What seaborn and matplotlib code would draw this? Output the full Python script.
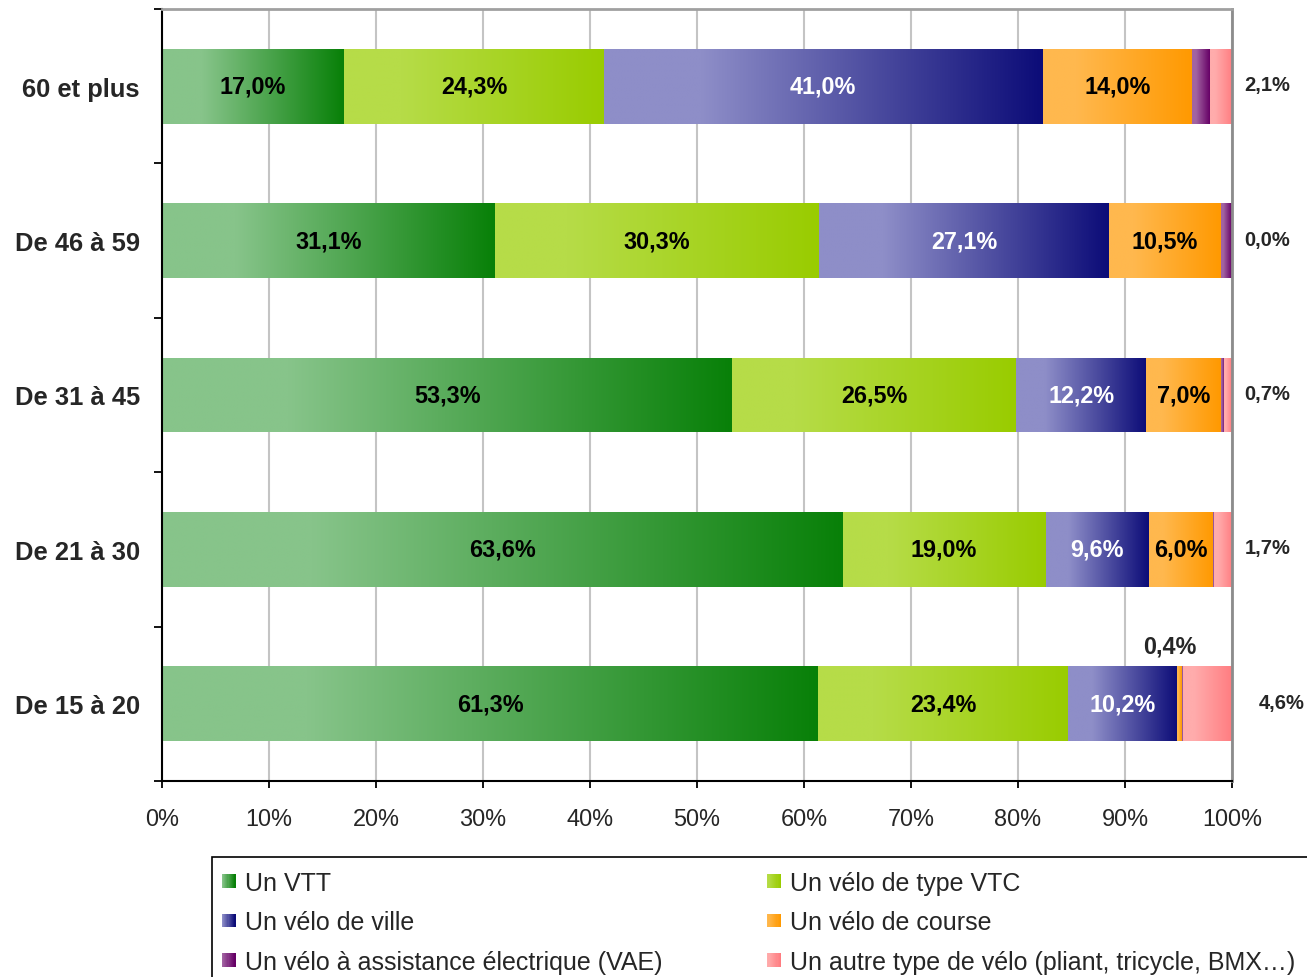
import numpy as np
import pandas as pd
import seaborn as sns
import matplotlib.pyplot as plt
from matplotlib.colors import LinearSegmentedColormap, to_rgb
from matplotlib.patches import Rectangle
from matplotlib.legend_handler import HandlerBase

# data
age_groups = ["60 et plus", "De 46 à 59", "De 31 à 45", "De 21 à 30", "De 15 à 20"]
series_names = ["Un VTT", "Un vélo de type VTC", "Un vélo de ville", "Un vélo de course",
                "Un vélo à assistance électrique (VAE)",
                "Un autre type de vélo (pliant, tricycle, BMX…)"]
vtt = [17.0, 31.1, 53.3, 63.6, 61.3]
vtc = [24.3, 30.3, 26.5, 19.0, 23.4]
ville = [41.0, 27.1, 12.2, 9.6, 10.2]
course = [14.0, 10.5, 7.0, 6.0, 0.4]
vae = [1.6, 1.0, 0.3, 0.1, 0.1]
autre = [2.1, 0.0, 0.7, 1.7, 4.6]

light = ["#87C48A", "#B6DC48", "#8E8EC8", "#FFB84E", "#A264A2", "#FFACAC"]
dark = ["#088008", "#99CC00", "#0C0C78", "#FF9900", "#660066", "#FF7C80"]

sns.set_style("white")
plt.rcParams["font.family"] = ["Liberation Sans", "DejaVu Sans"]


def fmt(v):
    return f"{v:.1f}%".replace(".", ",")


class GradientHandler(HandlerBase):
    """Legend square with a left-to-right gradient."""
    def __init__(self, c0, c1):
        super().__init__()
        self.c0 = np.array(to_rgb(c0))
        self.c1 = np.array(to_rgb(c1))

    def create_artists(self, legend, orig_handle, xdescent, ydescent, width, height, fontsize, trans):
        size = width
        x0 = -xdescent
        y0 = -ydescent + (height - size) / 2
        n = 12
        arts = []
        for k in range(n):
            t = k / (n - 1)
            col = (1 - t) * self.c0 + t * self.c1
            arts.append(Rectangle((x0 + k * size / n, y0), size / n * 1.05, size,
                                  facecolor=col, edgecolor="none", transform=trans))
        return arts


df = pd.DataFrame({"age": age_groups, "vtt": vtt, "vtc": vtc, "ville": ville,
                   "course": course, "vae": vae, "autre": autre})
cols = ["vtt", "vtc", "ville", "course", "vae", "autre"]

fig, ax = plt.subplots(figsize=(13.07, 9.78), dpi=100)
fig.subplots_adjust(left=0.124, right=0.9426, top=0.9898, bottom=0.2004)

grad = np.linspace(0, 1, 256).reshape(1, -1)
left = np.zeros(len(age_groups))
containers = []
for col, c0, c1 in zip(cols, light, dark):
    n_before = len(ax.patches)
    sns.barplot(data=df, x=col, y="age", order=age_groups, orient="h", color=c1,
                saturation=1, width=0.485, errorbar=None, left=left.copy(),
                linewidth=0, ax=ax)
    containers.append(ax.containers[-1])
    cmap = LinearSegmentedColormap.from_list(col, [(0, c0), (0.22, c0), (1, c1)])
    for p in ax.patches[n_before:]:
        w = p.get_width()
        if w <= 0:
            continue
        x0, y0, h = p.get_x(), p.get_y(), p.get_height()
        im = ax.imshow(grad, cmap=cmap, aspect="auto", extent=(x0, x0 + w, y0 + h, y0),
                       interpolation="bilinear", zorder=p.get_zorder() + 0.1)
        im.set_clip_path(p)
    left += df[col].to_numpy()

ax.set_xlim(0, 100)
ax.set_ylim(4.5, -0.5)

# labels inside the bars
label_size = 16.8
ax.bar_label(containers[0], labels=[fmt(v) for v in vtt], label_type="center",
             fontsize=label_size, fontweight="bold", color="black", zorder=5)
ax.bar_label(containers[1], labels=[fmt(v) for v in vtc], label_type="center",
             fontsize=label_size, fontweight="bold", color="black", zorder=5)
ax.bar_label(containers[2], labels=[fmt(v) for v in ville], label_type="center",
             fontsize=label_size, fontweight="bold", color="white", zorder=5)
ax.bar_label(containers[3], labels=[fmt(v) if v >= 1 else "" for v in course],
             label_type="center", fontsize=label_size, fontweight="bold", color="black", zorder=5)

# small course value above its bar
for i, v in enumerate(course):
    if v < 1:
        p = containers[3][i]
        ax.text(p.get_x() + p.get_width() / 2 - 0.9, p.get_y() - 0.06, fmt(v),
                ha="center", va="bottom", fontsize=label_size, fontweight="bold")

# "autre" values outside on the right
for i, v in enumerate(autre):
    xpos = 104.6 if i == len(autre) - 1 else 103.3
    ax.text(xpos, i - 0.01, fmt(v), ha="center", va="center", fontsize=14.5,
            fontweight="bold", clip_on=False)

# axes styling
ax.set_xticks(range(0, 101, 10))
ax.set_xticklabels([f"{v}%" for v in range(0, 101, 10)], fontsize=16.9)
ax.tick_params(axis="x", length=5, width=1.3, color="black", pad=14, bottom=True)
ax.set_yticks(range(len(age_groups)))
ax.set_yticklabels(age_groups, fontsize=18.4, fontweight="bold")
ax.tick_params(axis="y", which="major", length=0, pad=16)
ax.set_yticks(np.arange(-0.5, len(age_groups), 1), minor=True)
ax.tick_params(axis="y", which="minor", length=6, width=1.3, color="black", left=True)
ax.set_xlabel("")
ax.set_ylabel("")

ax.xaxis.grid(True, color="#C4C4C4", linewidth=1.5)
ax.yaxis.grid(False)
ax.set_axisbelow(True)
for side in ["left", "bottom"]:
    ax.spines[side].set_color("black")
    ax.spines[side].set_linewidth(1.5)
ax.spines["top"].set_color("#A0A0A0")
ax.spines["top"].set_linewidth(2)
ax.spines["right"].set_color("#8C8C8C")
ax.spines["right"].set_linewidth(2)

# legend, filled row by row; its box runs past the right and bottom edges
legend_left = 212 / 1307
legend_top = 1 - 858 / 978
fig.patches.append(Rectangle((legend_left, -0.1), 1.0, legend_top + 0.1,
                             transform=fig.transFigure, facecolor="white",
                             edgecolor="black", linewidth=1.2, zorder=0))
proxies = [Rectangle((0, 0), 1, 1) for _ in series_names]
order = [0, 2, 4, 1, 3, 5]
handler_map = {proxies[k]: GradientHandler(light[k], dark[k]) for k in range(len(proxies))}
fig.legend([proxies[k] for k in order], [series_names[k] for k in order],
           handler_map=handler_map, loc="upper left",
           bbox_to_anchor=(legend_left - 4 / 1307, legend_top), ncol=2, frameon=False,
           borderaxespad=0, handlelength=0.55, handleheight=0.7, handletextpad=0.37,
           columnspacing=4.2, labelspacing=0.62, borderpad=0.55, fontsize=18)

fig.savefig("out.png", dpi=100)
